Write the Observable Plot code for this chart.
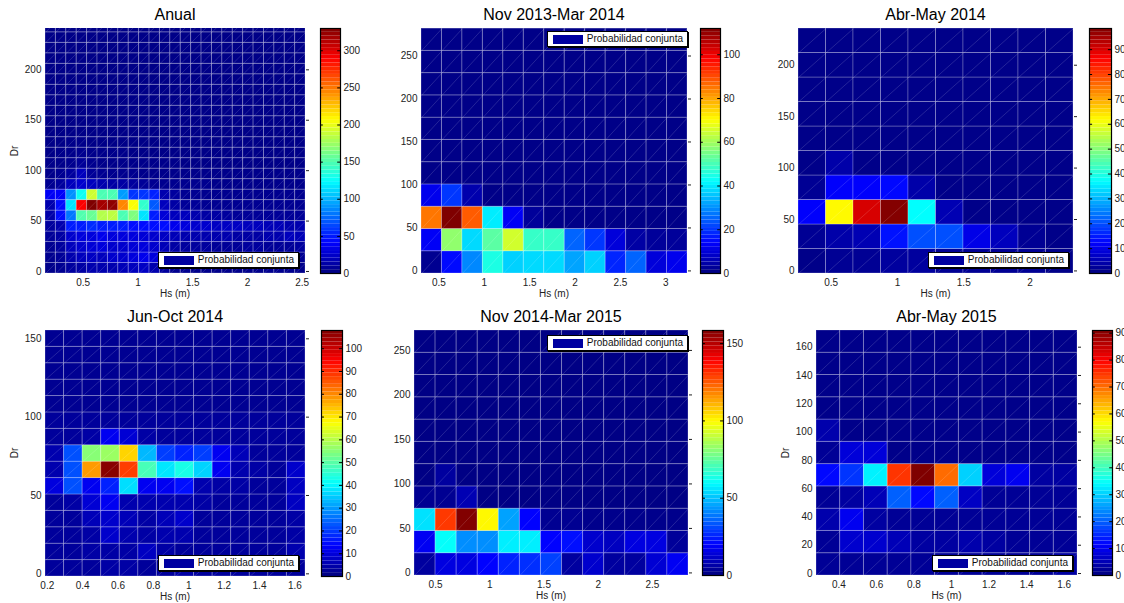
<!DOCTYPE html>
<html><head><meta charset="utf-8">
<script src="https://cdn.jsdelivr.net/npm/d3@7"></script>
<script src="https://cdn.jsdelivr.net/npm/@observablehq/plot@0.6"></script>
<style>
html,body{margin:0;padding:0;background:#fff;overflow:hidden;}
#root{position:relative;width:1124px;height:603px;overflow:hidden;font-family:'Liberation Sans',Arial,Helvetica,sans-serif;}
#root svg{position:absolute;overflow:visible;max-width:none;}
.abs{position:absolute;}
.title{font-size:16px;line-height:16px;white-space:nowrap;color:#000;transform:translateX(-50%);}
.lab{font-size:10px;line-height:10px;white-space:nowrap;color:#222;}
.legend{position:absolute;border:1px solid #000;background:#fff;box-shadow:1px 1px 0 #000;display:flex;align-items:center;height:14px;font-size:10px;line-height:10px;padding-right:4px;white-space:nowrap;color:#111;}
.sw{width:30px;height:9px;background:#0000a0;margin:0 4px 0 5px;flex:none;}
</style></head><body><div id="root"></div>
<script>
// ---------------- data ----------------
const titles = ["Anual", "Nov 2013-Mar 2014", "Abr-May 2014", "Jun-Oct 2014", "Nov 2014-Mar 2015", "Abr-May 2015"];
const legendText = "Probabilidad conjunta";
const xLabel = "Hs (m)";
const yLabel = "Dr";

// Panel 1: Anual (rows bottom -> top, Hs bins left -> right)
const hsRange1 = [0.156, 2.53], drRange1 = [-2, 241], hsBin1 = [0.156, 0.095], drBin1 = [-2, 10.4], cMax1 = 330;
const xTicks1 = [0.5, 1, 1.5, 2, 2.5], yTicks1 = [0, 50, 100, 150, 200], cTicks1 = [0, 50, 100, 150, 200, 250, 300];
const counts1 = [
  [4,6,10,12,15,15,15,18,20,22,15,10,5,5,4,4,4,4,4,4,4,5,5,5,4],
  [5,8,15,20,22,20,25,25,30,35,30,20,12,8,6,6,6,6,6,6,6,6,6,6,6],
  [6,10,20,25,28,30,25,25,28,30,25,18,12,10,10,10,8,8,8,10,10,8,8,8,10],
  [8,12,25,30,30,35,30,30,30,28,25,22,18,15,15,15,15,15,12,12,12,15,15,20,18],
  [10,15,50,50,55,50,50,50,45,45,45,45,35,30,25,25,22,22,22,20,20,18,18,15,15],
  [14,45,80,150,158,182,185,148,165,115,50,28,20,20,15,12,12,10,8,8,8,8,8,8,8],
  [15,45,115,290,330,318,325,245,205,140,70,20,12,8,8,6,6,6,6,6,6,6,6,6,6],
  [38,40,88,128,190,148,148,92,58,58,52,15,10,6,6,5,5,5,5,5,5,5,5,5,5],
  [6,10,20,25,20,15,12,12,10,8,6,5,5,5,5,5,4,4,4,4,4,4,4,4,4],
  [4,6,10,20,8,6,5,5,5,4,4,4,4,4,4,4,4,4,4,4,4,4,4,4,4],
  [4,4,5,8,5,4,4,4,4,4,4,4,4,3,3,3,3,3,3,3,3,3,3,3,3],
  [3,4,4,5,4,4,4,4,3,3,3,3,3,3,3,3,3,3,3,3,3,3,3,3,3],
  [3,3,4,4,3,3,3,3,3,3,3,3,3,3,3,3,3,3,3,3,3,3,3,3,3],
  [3,3,3,3,3,3,3,3,3,3,3,3,3,3,3,3,3,3,3,3,3,3,3,3,3],
  [3,3,3,3,3,3,3,3,3,3,3,3,3,3,3,3,3,3,3,3,3,3,3,3,3],
  [3,3,3,3,3,3,3,3,3,3,3,3,3,3,3,3,3,3,3,3,3,3,3,3,3],
  [3,3,3,3,3,3,3,3,3,3,3,3,3,3,3,3,3,3,3,3,3,3,3,3,3],
  [3,3,3,3,3,3,3,3,3,3,3,3,3,3,3,3,3,3,3,3,3,3,3,3,3],
  [3,3,3,3,3,3,3,3,3,3,3,3,3,3,3,3,3,3,3,3,3,3,3,3,3],
  [3,3,3,3,3,3,3,3,3,3,3,3,3,3,3,3,3,3,3,3,3,3,3,3,3],
  [3,3,3,3,3,3,3,3,3,3,3,3,3,3,3,3,3,3,3,3,3,3,3,3,3],
  [3,3,3,3,3,3,3,3,3,3,3,3,3,3,3,3,3,3,3,3,3,3,3,3,3],
  [3,3,3,3,3,3,3,3,3,3,3,3,3,3,3,3,3,3,3,3,3,3,3,3,3],
  [3,3,3,3,3,3,3,3,3,3,3,3,3,3,3,3,3,3,3,3,3,3,3,3,3]
];

// Panel 2: Nov 2013-Mar 2014
const hsRange2 = [0.309, 3.239], drRange2 = [-3, 282], hsBin2 = [0.309, 0.2254], drBin2 = [-3, 25.9], cMax2 = 112;
const xTicks2 = [0.5, 1, 1.5, 2, 2.5, 3], yTicks2 = [0, 50, 100, 150, 200, 250], cTicks2 = [0, 20, 40, 60, 80, 100];
const counts2 = [
  [2,15,29,45,37,38,38,32,37,18,25,10,12],
  [13,58,38,52,65,48,48,25,20,10,4,3,3],
  [85,112,88,40,13,3,1,1,1,1,1,1,1],
  [12,20,5,1,1,1,1,1,1,1,1,1,1],
  [1,1,1,1,1,1,1,1,1,1,1,1,1],
  [1,1,1,1,1,1,1,1,1,1,1,1,1],
  [1,1,1,1,1,1,1,1,1,1,1,1,1],
  [1,1,1,1,1,1,1,1,1,1,1,1,1],
  [1,1,1,1,1,1,1,1,1,1,1,1,1],
  [1,1,1,1,1,1,1,1,1,1,1,1,1],
  [1,1,1,1,1,1,1,1,1,1,1,1,1]
];

// Panel 3: Abr-May 2014
const hsRange3 = [0.253, 2.328], drRange3 = [-2.5, 235.7], hsBin3 = [0.253, 0.2075], drBin3 = [-2.5, 23.82], cMax3 = 98.5;
const xTicks3 = [0.5, 1, 1.5, 2], yTicks3 = [0, 50, 100, 150, 200], cTicks3 = [0, 10, 20, 30, 40, 50, 60, 70, 80, 90];
const counts3 = [
  [1,2,2,3,3,2,2,2,2,1],
  [2,4,5,14,20,20,10,6,2,1],
  [12,62,90,98,37,5,1,1,1,1],
  [2,12,12,13,4,1,1,1,1,1],
  [1,4,1,1,1,1,1,1,1,1],
  [1,1,1,1,1,1,1,1,1,1],
  [1,1,1,1,1,1,1,1,1,1],
  [1,1,1,1,1,1,1,1,1,1],
  [1,1,1,1,1,1,1,1,1,1],
  [1,1,1,1,1,1,1,1,1,1]
];

// Panel 4: Jun-Oct 2014
const hsRange4 = [0.19, 1.66], drRange4 = [-1.7, 155.3], hsBin4 = [0.19, 0.105], drBin4 = [-1.7, 10.47], cMax4 = 108;
const xTicks4 = [0.2, 0.4, 0.6, 0.8, 1, 1.2, 1.4, 1.6], yTicks4 = [0, 50, 100, 150], cTicks4 = [0, 10, 20, 30, 40, 50, 60, 70, 80, 90, 100];
const counts4 = [
  [3,3,3,4,4,3,3,4,3,3,3,3,3,3],
  [3,3,4,4,4,7,4,3,3,3,3,3,3,5],
  [3,3,4,8,5,4,5,5,3,3,3,3,3,4],
  [3,3,6,8,6,4,6,8,3,3,3,3,3,4],
  [3,4,9,12,5,5,5,5,4,3,3,3,3,7],
  [10,22,12,17,37,12,12,15,5,4,4,3,3,7],
  [5,22,78,107,88,48,38,43,36,12,5,4,3,8],
  [5,22,55,57,72,33,20,17,20,12,6,3,3,3],
  [3,3,4,12,9,4,3,3,3,3,3,3,3,3],
  [3,3,3,3,3,3,3,3,3,3,3,3,3,3],
  [2,2,2,2,2,2,2,2,2,2,2,2,2,2],
  [2,2,2,2,2,2,2,2,2,2,2,2,2,2],
  [2,2,2,2,2,2,2,2,2,2,2,2,2,2],
  [2,2,2,2,2,2,2,2,2,2,2,2,2,2],
  [2,2,2,2,2,2,2,2,2,2,2,2,2,2]
];

// Panel 5: Nov 2014-Mar 2015
const hsRange5 = [0.306, 2.832], drRange5 = [-2.9, 272.4], hsBin5 = [0.306, 0.1943], drBin5 = [-2.9, 25.03], cMax5 = 158.5;
const xTicks5 = [0.5, 1, 1.5, 2, 2.5], yTicks5 = [0, 50, 100, 150, 200, 250], cTicks5 = [0, 50, 100, 150];
const counts5 = [
  [5,15,15,20,25,27,30,5,12,5,5,13,18],
  [18,60,42,42,57,57,20,22,12,10,15,15,4],
  [55,130,158,100,45,20,3,3,2,2,2,2,2],
  [3,3,8,1,1,1,1,1,1,1,1,1,1],
  [1,5,1,1,1,1,1,1,1,1,1,1,1],
  [1,1,1,1,1,1,1,1,1,1,1,1,1],
  [1,1,1,1,1,1,1,1,1,1,1,1,1],
  [1,1,1,1,1,1,1,1,1,1,1,1,1],
  [1,1,1,1,1,1,1,1,1,1,1,1,1],
  [1,1,1,1,1,1,1,1,1,1,1,1,1],
  [1,1,1,1,1,1,1,1,1,1,1,1,1]
];

// Panel 6: Abr-May 2015
const hsRange6 = [0.281, 1.671], drRange6 = [-1.4, 171.8], hsBin6 = [0.281, 0.1264], drBin6 = [-1.4, 15.75], cMax6 = 91;
const xTicks6 = [0.4, 0.6, 0.8, 1, 1.2, 1.4, 1.6], yTicks6 = [0, 20, 40, 60, 80, 100, 120, 140, 160], cTicks6 = [0, 10, 20, 30, 40, 50, 60, 70, 80, 90];
const counts6 = [
  [2,2,2,2,2,2,2,2,2,2,3],
  [2,7,7,5,3,3,4,3,2,2,2],
  [4,10,3,2,2,2,2,2,2,2,2],
  [2,3,5,20,12,20,6,2,2,2,2],
  [12,16,33,75,91,70,30,8,10,3,3],
  [2,8,8,1,1,1,1,1,1,1,1],
  [4,1,1,1,1,1,1,1,1,1,1],
  [1,1,1,1,1,1,1,1,1,1,1],
  [1,1,1,1,1,1,1,1,1,1,1],
  [1,1,1,1,1,1,1,1,1,1,1],
  [1,1,1,1,1,1,1,1,1,1,1]
];

const panels = [
  {hsRange: hsRange1, drRange: drRange1, hsBin: hsBin1, drBin: drBin1, cMax: cMax1, xTicks: xTicks1, yTicks: yTicks1, cTicks: cTicks1, counts: counts1},
  {hsRange: hsRange2, drRange: drRange2, hsBin: hsBin2, drBin: drBin2, cMax: cMax2, xTicks: xTicks2, yTicks: yTicks2, cTicks: cTicks2, counts: counts2},
  {hsRange: hsRange3, drRange: drRange3, hsBin: hsBin3, drBin: drBin3, cMax: cMax3, xTicks: xTicks3, yTicks: yTicks3, cTicks: cTicks3, counts: counts3},
  {hsRange: hsRange4, drRange: drRange4, hsBin: hsBin4, drBin: drBin4, cMax: cMax4, xTicks: xTicks4, yTicks: yTicks4, cTicks: cTicks4, counts: counts4},
  {hsRange: hsRange5, drRange: drRange5, hsBin: hsBin5, drBin: drBin5, cMax: cMax5, xTicks: xTicks5, yTicks: yTicks5, cTicks: cTicks5, counts: counts5},
  {hsRange: hsRange6, drRange: drRange6, hsBin: hsBin6, drBin: drBin6, cMax: cMax6, xTicks: xTicks6, yTicks: yTicks6, cTicks: cTicks6, counts: counts6}
];

// ---------------- layout / style ----------------
const frames = [
  {l: 45,  r: 305,  t: 28,  b: 273, cbl: 320,  cbr: 340,  lgR: 299,  lgT: 252, dr: 15},
  {l: 421, r: 687,  t: 28,  b: 273, cbl: 700,  cbr: 720,  lgR: 688,  lgT: 31,  dr: null},
  {l: 798, r: 1073, t: 28,  b: 273, cbl: 1089, cbr: 1111, lgR: 1069, lgT: 252, dr: null},
  {l: 45,  r: 305,  t: 330, b: 576, cbl: 321,  cbr: 342,  lgR: 299,  lgT: 555, dr: 15},
  {l: 414, r: 688,  t: 330, b: 575, cbl: 702,  cbr: 723,  lgR: 688,  lgT: 335, dr: null},
  {l: 816, r: 1077, t: 330, b: 575, cbl: 1092, cbr: 1112, lgR: 1073, lgT: 555, dr: 786}
];
const jetColors = ["#00007f","#0000ff","#007fff","#00ffff","#7fff7f","#ffff00","#ff7f00","#ff0000","#7f0000"];
const jet = d3.piecewise(d3.interpolateRgb, jetColors);
const FONT = "'Liberation Sans', Arial, Helvetica, sans-serif";
const fmt = d => String(+(+d).toFixed(3));

const root = document.getElementById("root");
function place(el, left, top) { el.style.left = left + "px"; el.style.top = top + "px"; root.appendChild(el); }
function div(cls, text) { const d = document.createElement("div"); d.className = cls; if (text != null) d.textContent = text; return d; }

panels.forEach((p, k) => {
  const f = frames[k];
  const [x0, dx] = p.hsBin, [y0, dy] = p.drBin;
  const cells = p.counts.flatMap((row, j) => row.map((v, i) => ({
    x1: x0 + i * dx, x2: x0 + (i + 1) * dx, y1: y0 + j * dy, y2: y0 + (j + 1) * dy, v
  })));
  const color = {type: "linear", domain: [0, p.cMax], interpolate: jet, clamp: true};
  const ml = 44, mr = 12, mt = 4, mb = 24;
  const W = f.r - f.l, H = f.b - f.t;
  const style = {fontFamily: FONT, fontSize: "10px", color: "#222", background: "transparent", overflow: "visible"};

  const heat = Plot.plot({
    width: W + ml + mr, height: H + mt + mb,
    marginLeft: ml, marginRight: mr, marginTop: mt, marginBottom: mb,
    style,
    x: {domain: p.hsRange, label: null},
    y: {domain: p.drRange, label: null},
    color,
    marks: [
      Plot.rect(cells, {x1: "x1", x2: "x2", y1: "y1", y2: "y2", fill: "v", stroke: "#ffffff", strokeOpacity: 0.24, strokeWidth: 1, clip: true}),
      Plot.link(cells, {x1: "x1", y1: "y1", x2: "x2", y2: "y2", stroke: "#ffffff", strokeOpacity: 0.18, strokeWidth: 0.8, clip: true}),
      Plot.axisX({ticks: p.xTicks, tickFormat: fmt, tickSize: 0, tickPadding: 5, label: null}),
      Plot.axisY({ticks: p.yTicks, tickFormat: fmt, tickSize: 0, tickPadding: 4, label: null}),
      Plot.axisY({anchor: "right", ticks: p.yTicks, tickFormat: () => "", tickSize: 3, label: null, stroke: "#222"})
    ]
  });
  place(heat, f.l - ml, f.t - mt);

  // colorbar
  const n = 64;
  const bands = d3.range(n).map(i => ({y1: i * p.cMax / n, y2: (i + 1) * p.cMax / n, v: (i + 0.5) * p.cMax / n}));
  const cbW = f.cbr - f.cbl, cmt = 8, cmb = 8, cmr = 40;
  const cb = Plot.plot({
    width: cbW + cmr, height: H + cmt + cmb,
    marginLeft: 0, marginRight: cmr, marginTop: cmt, marginBottom: cmb,
    style,
    x: {domain: [0, 1], axis: null},
    y: {domain: [0, p.cMax], label: null},
    color,
    marks: [
      Plot.rect(bands, {x1: 0, x2: 1, y1: "y1", y2: "y2", fill: "v"}),
      Plot.ruleY(p.cTicks, {x1: 0, x2: 0.14, stroke: "#000"}),
      Plot.ruleY(p.cTicks, {x1: 0.86, x2: 1, stroke: "#000"}),
      Plot.frame({stroke: "#000", strokeWidth: 1.2}),
      Plot.axisY({anchor: "right", ticks: p.cTicks, tickFormat: fmt, tickSize: 0, tickPadding: 3, label: null})
    ]
  });
  place(cb, f.cbl, f.t - cmt);

  // title
  const t = div("abs title", titles[k]);
  place(t, (f.l + f.r) / 2, f.t - 21.5);

  // x label
  const xl = div("abs lab", xLabel);
  xl.style.transform = "translateX(-50%)";
  place(xl, (f.l + f.r) / 2, f.b + 16);

  // y label
  if (f.dr != null) {
    const yl = div("abs lab", yLabel);
    yl.style.transform = "translate(-50%,-50%) rotate(-90deg)";
    place(yl, f.dr, (f.t + f.b) / 2);
  }

  // legend
  const lg = div("legend");
  lg.appendChild(div("sw"));
  const sp = document.createElement("span"); sp.textContent = legendText; lg.appendChild(sp);
  lg.style.right = (1124 - f.lgR) + "px";
  lg.style.top = f.lgT + "px";
  root.appendChild(lg);
});
</script></body></html>
